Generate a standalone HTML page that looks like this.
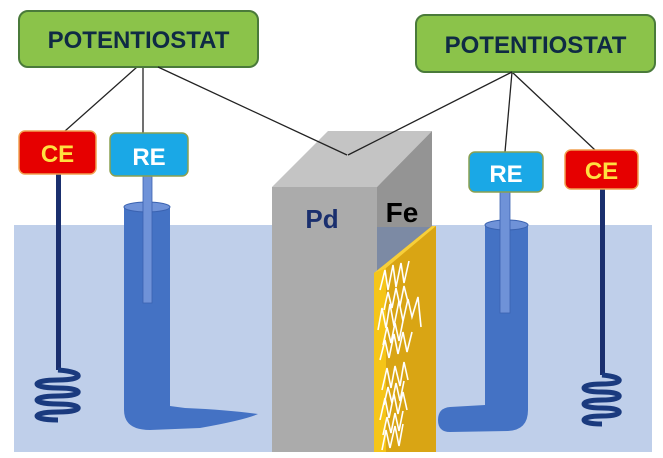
<!DOCTYPE html>
<html><head><style>body{margin:0;background:#fff}svg{display:block}</style></head><body>
<svg width="663" height="458" viewBox="0 0 663 458" xmlns="http://www.w3.org/2000/svg" font-family="Liberation Sans, sans-serif" font-weight="bold">
<rect x="14" y="225" width="638" height="227" fill="#bfcfea"/>
<g stroke="#222" stroke-width="1.3">
<line x1="137" y1="67" x2="65" y2="131"/><line x1="143" y1="67" x2="143" y2="133"/>
<line x1="512" y1="72" x2="505" y2="152"/><line x1="512" y1="72" x2="595" y2="150"/>
</g>
<rect x="19" y="11" width="239" height="56" rx="9" fill="#8bc34a" stroke="#4a7a3a" stroke-width="2"/>
<text x="138.5" y="48" font-size="24" fill="#0f2a44" text-anchor="middle">POTENTIOSTAT</text>
<rect x="416" y="15" width="239" height="57" rx="9" fill="#8bc34a" stroke="#4a7a3a" stroke-width="2"/>
<text x="535.5" y="53" font-size="24" fill="#0f2a44" text-anchor="middle">POTENTIOSTAT</text>
<!-- left CE -->
<rect x="56" y="174" width="5" height="196" fill="#1a2f6e"/>
<path d="M58 370 C85 372 85 380 58 380 C30 380 30 388 58 388 C85 388 85 396 58 396 C30 396 30 404 58 404 C85 404 85 412 58 412 C30 412 30 420 58 420" fill="none" stroke="#1a3a7e" stroke-width="5"/>
<rect x="19" y="131" width="77" height="43" rx="6" fill="#e60000" stroke="#f0a050" stroke-width="1.5"/>
<text x="57.5" y="162" font-size="24" fill="#ffe040" text-anchor="middle">CE</text>
<!-- left RE -->
<path d="M124 207 L124 410 Q124 430 150 430 L200 428 Q245 420 258 414 Q230 410 185 408 L170 406 L170 207 Z" fill="#4472c4"/>
<ellipse cx="147" cy="207" rx="23" ry="5" fill="#6f92d8" stroke="#3a62b0"/>
<rect x="143" y="176" width="9" height="127" fill="#6f92d8" stroke="#3a62b0" stroke-width="0.8"/>
<rect x="110" y="133" width="78" height="43" rx="6" fill="#1aa8e6" stroke="#8aa050" stroke-width="1.5"/>
<text x="149" y="165" font-size="24" fill="#fff" text-anchor="middle">RE</text>
<!-- right RE -->
<path d="M485 225 L485 405 L450 407 Q438 408 438 420 Q438 432 450 432 L508 431 Q528 430 528 410 L528 225 Z" fill="#4472c4"/>
<ellipse cx="506.5" cy="225" rx="21.5" ry="5" fill="#6f92d8" stroke="#3a62b0"/>
<rect x="500" y="192" width="10" height="121" fill="#6f92d8" stroke="#3a62b0" stroke-width="0.8"/>
<rect x="469" y="152" width="74" height="40" rx="6" fill="#1aa8e6" stroke="#8aa050" stroke-width="1.5"/>
<text x="506" y="182" font-size="24" fill="#fff" text-anchor="middle">RE</text>
<!-- right CE -->
<rect x="600" y="189" width="5" height="186" fill="#1a2f6e"/>
<path d="M602 375 C625 377 625 384 602 384 C578 384 578 392 602 392 C625 392 625 400 602 400 C578 400 578 408 602 408 C625 408 625 416 602 416 C578 416 578 424 602 424" fill="none" stroke="#1a3a7e" stroke-width="5"/>
<rect x="565" y="150" width="73" height="39" rx="6" fill="#e60000" stroke="#f0a050" stroke-width="1.5"/>
<text x="601.5" y="179" font-size="24" fill="#ffe040" text-anchor="middle">CE</text>
<!-- pillar -->
<polygon points="272,187 328,131 432,131 377,187" fill="#c4c4c4"/>
<rect x="272" y="187" width="105" height="265" fill="#ababab"/>
<polygon points="377,187 432,131 432,452 377,452" fill="#949494"/>
<polygon points="377,227 432,227 432,232 377,280" fill="#7c8aa4"/>
<polygon points="374,273 432,226 436,226 436,452 374,452" fill="#d9a514"/>
<polygon points="374,273 386,265 386,452 374,452" fill="#f5c518"/>
<polygon points="374,273 432,226 436,226 386,268" fill="#f7cf3a"/>
<g stroke="#222" stroke-width="1.3">
<line x1="158" y1="67" x2="347" y2="155"/>
<line x1="512" y1="72" x2="348" y2="155"/>
</g>
<g fill="none" stroke="#fff" stroke-width="1.6">
<path d="M380 290 l5 -20 l3 20 l5 -25 l3 22 l5 -24 l3 20 l5 -22"/>
<path d="M378 330 l4 -22 l4 20 l4 -24 l4 22 l5 -25 l4 20 l5 -22 l4 18 l6 -20 l3 30"/>
<path d="M380 360 l5 -20 l4 18 l5 -24 l4 20 l5 -22 l4 20 l5 -20"/>
<path d="M382 390 l5 -22 l4 20 l4 -22 l5 20 l4 -24 l4 18"/>
<path d="M380 420 l5 -22 l4 20 l5 -24 l4 20 l5 -22 l4 18"/>
<path d="M382 450 l4 -20 l4 18 l5 -22 l4 20 l4 -22"/>
<path d="M384 310 l4 -18 l4 16 l4 -20 l4 18 l4 -20 l4 16"/>
<path d="M383 345 l4 -18 l4 16 l4 -20 l4 18 l4 -20"/>
<path d="M384 405 l4 -18 l4 16 l4 -20 l4 18 l4 -20"/>
<path d="M383 435 l4 -18 l4 16 l4 -20 l4 18 l4 -20"/>
</g>
<text x="322" y="228" font-size="26" fill="#1a2f6e" text-anchor="middle">Pd</text>
<text x="402" y="222" font-size="28" fill="#000" text-anchor="middle">Fe</text>
</svg>
</body></html>
